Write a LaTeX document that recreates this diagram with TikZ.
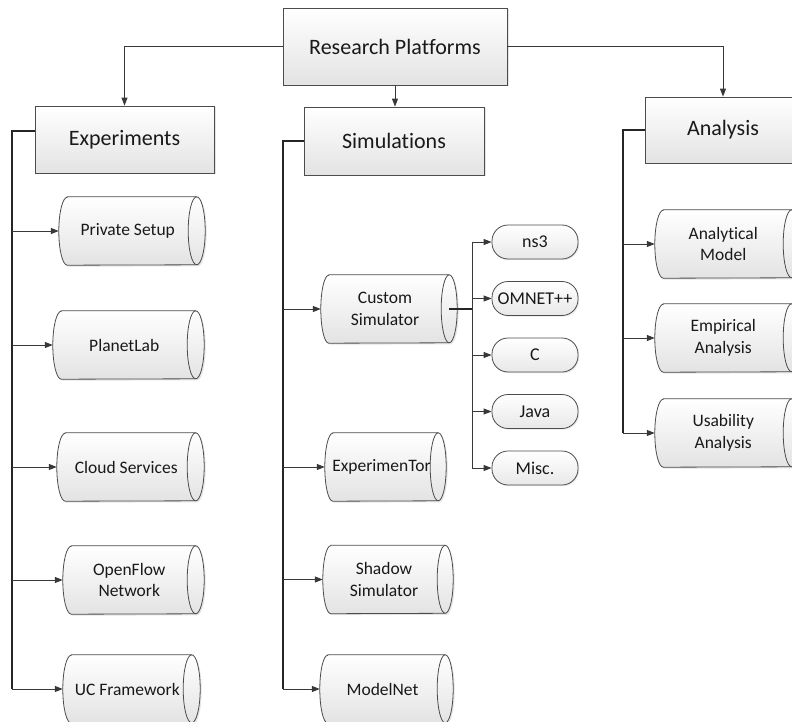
\documentclass[tikz,border=0pt]{standalone}
\usepackage{fontspec}
\setmainfont{Carlito}[Ligatures=NoCommon]
\usetikzlibrary{arrows.meta,shadows,backgrounds,calc}
\begin{document}
\begin{tikzpicture}[x=1pt,y=-1pt,
  line/.style={draw=black!78, line width=1pt},
  bus/.style={draw=black!85, line width=1.2pt},
  arr/.style={line, -{Triangle[length=8pt,width=6pt]}},
  box/.style={draw=black!70, line width=0.8pt, top color=white, bottom color=black!11,
    drop shadow={shadow xshift=1.5pt, shadow yshift=-1.5pt, fill=black!30, opacity=.35},
    inner sep=0pt, font=\fontsize{22}{26}\selectfont, text=black!90},
  cyl/.style={inner sep=0pt, minimum height=68pt, align=center,
    font=\fontsize{17.5}{21.5}\selectfont, text=black!90},
  pill/.style={draw=black!70, line width=0.8pt, rounded corners=16pt, top color=white,
    bottom color=black!9, minimum width=86pt, minimum height=34pt, inner sep=0pt,
    drop shadow={shadow xshift=1.2pt, shadow yshift=-1.2pt, fill=black!30, opacity=.3},
    font=\fontsize{18}{22}\selectfont, text=black!90},
  cylfill/.style={draw=black!70, line width=0.8pt, top color=white, bottom color=black!11},
  cylline/.style={draw=black!70, line width=0.8pt},
  ]
\useasboundingbox (0,0) rectangle (792,722);
\clip (0,0) rectangle (792,722);

% top level boxes
\node[box, minimum width=224pt, minimum height=77pt] (rp) at (395,46.5) {Research Platforms};
\node[box, minimum width=179pt, minimum height=67pt] (exp) at (124.5,139.5) {Experiments};
\node[box, minimum width=180pt, minimum height=68pt] (sim) at (394,141) {Simulations};
\node[box, minimum width=156pt, minimum height=66pt] (ana) at (723,130) {Analysis};

% experiment cylinders
\node[cyl, minimum width=137.5pt] (ps) at (127.75,231) {Private Setup};
\node[cyl, minimum width=142.5pt] (pl) at (124.25,345) {PlanetLab};
\node[cyl, minimum width=138.5pt] (cs) at (126.25,467) {Cloud Services};
\node[cyl, minimum width=132.5pt] (of) at (129.25,580) {OpenFlow\\Network};
\node[cyl, minimum width=128.5pt] (uc) at (127.25,689) {UC Framework};

% simulation cylinders
\node[cyl, minimum width=128pt] (cu) at (385,309) {Custom\\Simulator};
\node[cyl, minimum width=113pt] (et) at (381.5,467) {ExperimenTor};
\node[cyl, minimum width=122pt] (sh) at (384,579.5) {Shadow\\Simulator};
\node[cyl, minimum width=125pt] (mn) at (382.5,689) {ModelNet};

% analysis cylinders
\node[cyl, minimum width=136.5pt] (am) at (723.25,244) {Analytical\\Model};
\node[cyl, minimum width=136.5pt] (ea) at (723.25,338) {Empirical\\Analysis};
\node[cyl, minimum width=136.5pt] (ua) at (723.25,433) {Usability\\Analysis};

% pills
\node[pill] (ns3) at (535,242) {ns3};
\node[pill] (om) at (535,298.5) {OMNET++};
\node[pill] (cc) at (535,355) {C};
\node[pill] (ja) at (535,411.5) {Java};
\node[pill] (mi) at (535,468) {Misc.};

% cylinder outlines behind the text
\begin{scope}[on background layer]
\foreach \n/\d in {ps/8.5pt,pl/8.5pt,cs/8.5pt,of/8.5pt,uc/8.5pt,cu/8pt,et/8pt,sh/8pt,mn/8pt,am/8.5pt,ea/8.5pt,ua/8.5pt}{
  \fill[black!30, opacity=.35, transform canvas={shift={(1.5pt,-1.5pt)}}]
    ([xshift=\d]\n.north west) -- (\n.north east)
    arc[start angle=90,end angle=-90,x radius=\d,y radius=34pt]
    -- ([xshift=\d]\n.south west)
    arc[start angle=270,end angle=90,x radius=\d,y radius=34pt] -- cycle;
  \path[cylfill]
    ([xshift=\d]\n.north west) -- (\n.north east)
    arc[start angle=90,end angle=-90,x radius=\d,y radius=34pt]
    -- ([xshift=\d]\n.south west)
    arc[start angle=270,end angle=90,x radius=\d,y radius=34pt] -- cycle;
  \draw[cylline] (\n.north east) arc[start angle=90,end angle=270,x radius=\d,y radius=34pt];
}
\end{scope}

% top connectors
\draw[arr] (rp.west) -| (exp.north);
\draw[arr] (rp.south) -- (rp.south |- sim.north);
\draw[arr] (rp.east) -| (ana.north);

% buses
\coordinate (eb) at (12,689);
\coordinate (sb) at (283,689);
\coordinate (ab) at (623,433);
\coordinate (cb) at (472,0);

\draw[bus] ([yshift=8.5pt]exp.west) -| (eb);
\foreach \n in {ps,pl,cs,of,uc} \draw[arr] (\n.west -| eb) -- (\n.west);

\draw[bus] (sim.west) -| (sb);
\foreach \n in {cu,et,sh,mn} \draw[arr] (\n.west -| sb) -- (\n.west);

\draw[bus] (ana.west) -| (ab);
\foreach \n in {am,ea,ua} \draw[arr] (\n.west -| ab) -- (\n.west);

\draw[bus] (cu.east) -- (cu.east -| cb);
\draw[line] (ns3.west -| cb) -- (mi.west -| cb);
\foreach \n in {ns3,om,cc,ja,mi} \draw[arr] (\n.west -| cb) -- (\n.west);
\end{tikzpicture}
\end{document}
